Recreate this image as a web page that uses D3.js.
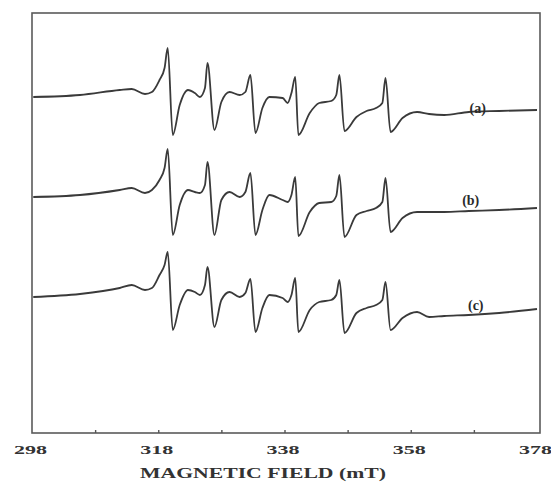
<!DOCTYPE html>
<html>
<head>
<meta charset="utf-8">
<script src="https://cdn.jsdelivr.net/npm/d3@7"></script>
<style>
  html, body { margin: 0; padding: 0; background: #ffffff; }
  svg { display: block; }
</style>
</head>
<body>
<svg id="chart" width="551" height="484"></svg>
<script>
// Magnetic field positions (mT) shared by the three EPR spectra
const field = [298.2, 305.6, 311.9, 313.8, 315.9, 317.0, 318.2, 319.0, 319.5, 320.3,
  321.4, 322.7, 323.8, 324.6, 325.4, 325.8, 326.9, 328.0, 329.3, 330.9,
  331.8, 332.6, 333.4, 334.5, 335.6, 337.7, 338.5, 339.1, 339.7, 340.2,
  342.0, 343.5, 345.4, 346.2, 346.7, 347.5, 349.4, 351.0, 352.5, 353.5,
  354.0, 354.8, 356.7, 359.0, 360.9, 363.3, 367.2, 372.0, 378.0];

// First-derivative signal (arbitrary units) for each sample
const signalA = [3, 5, 10, 11, 6, 8, 20, 32, 52, -35,
  -5, 10, 7, 3, 12, 37, -30, -2, 8, 5,
  8, 25, -33, -8, 3, 2, -3, 7, 23, -35,
  -13, -3, -1, 5, 25, -31, -17, -11, -8, -3,
  22, -32, -18, -12, -14, -15, -12, -11, -10];

const signalB = [3, 5, 10, 12, 7, 10, 20, 32, 51, -35,
  -5, 10, 8, 7, 15, 38, -35, 0, 8, 3,
  8, 27, -35, -10, 5, 0, -2, 5, 23, -36,
  -12, -3, -2, 4, 25, -37, -15, -11, -8, -2,
  22, -32, -18, -12, -12, -12, -11, -10, -8];

const signalC = [3, 6, 12, 15, 10, 12, 25, 35, 48, -30,
  -5, 10, 8, 5, 15, 33, -27, 0, 8, 3,
  7, 21, -32, -8, 5, 2, -2, 5, 22, -32,
  -10, -2, 0, 5, 20, -33, -13, -8, -5, 0,
  18, -30, -18, -12, -17, -16, -15, -13, -9];

const seriesLabels = ["(a)", "(b)", "(c)"];
const tickLabels = [298, 318, 338, 358, 378];
const minorTicks = [308, 318, 328, 338, 348, 358, 368];
const axisTitle = "MAGNETIC FIELD (mT)";

const svg = d3.select("#chart");
const frame = { left: 32, right: 540, top: 13, bottom: 433 };

const x = d3.scaleLinear().domain([298, 378]).range([frame.left, frame.right - 3]);
const y = d3.scaleLinear().domain([0, 420]).range([frame.bottom, frame.top]);

// vertical stacking of the three spectra
const spectra = [
  { values: signalA, offset: 333, label: seriesLabels[0], labelField: 368.6, labelShift: 8 },
  { values: signalB, offset: 233, label: seriesLabels[1], labelField: 367.5, labelShift: 0 },
  { values: signalC, offset: 133, label: seriesLabels[2], labelField: 368.3, labelShift: 5 }
];

const ink = "#3a3a3a";
const serif = "'Liberation Serif', 'DejaVu Serif', 'Times New Roman', serif";

// plot frame
svg.append("rect")
  .attr("x", frame.left).attr("y", frame.top)
  .attr("width", frame.right - frame.left).attr("height", frame.bottom - frame.top)
  .attr("fill", "none").attr("stroke", "#5a5a5a").attr("stroke-width", 1.6);

// bottom axis with small inward ticks
const axis = d3.axisBottom(x).tickValues(minorTicks).tickSize(-3).tickFormat("");
const gAxis = svg.append("g").attr("transform", `translate(0,${frame.bottom})`).call(axis);
gAxis.select(".domain").remove();
gAxis.selectAll(".tick line").attr("stroke", "#555").attr("stroke-width", 1.4);

// tick labels
svg.append("g").selectAll("text").data(tickLabels).join("text")
  .attr("x", d => x(d) - 18)
  .attr("y", 454)
  .attr("textLength", 33)
  .attr("lengthAdjust", "spacingAndGlyphs")
  .attr("font-family", serif).attr("font-weight", "bold").attr("font-size", 13)
  .attr("fill", "#333")
  .text(d => d);

// axis title
svg.append("text")
  .attr("x", 140).attr("y", 478)
  .attr("textLength", 246)
  .attr("lengthAdjust", "spacingAndGlyphs")
  .attr("font-family", serif).attr("font-weight", "bold").attr("font-size", 15)
  .attr("fill", "#333")
  .text(axisTitle);

// spectra
const line = d3.line()
  .x(d => x(d[0]))
  .y(d => d[1])
  .curve(d3.curveMonotoneX);

spectra.forEach(s => {
  const pts = field.map((f, i) => [f, y(s.values[i] + s.offset)]);
  svg.append("path")
    .attr("d", line(pts))
    .attr("fill", "none")
    .attr("stroke", ink)
    .attr("stroke-width", 1.8)
    .attr("stroke-linejoin", "round");

  svg.append("text")
    .attr("x", x(s.labelField))
    .attr("y", y(s.offset - s.labelShift) + 5)
    .attr("text-anchor", "middle")
    .attr("font-family", serif).attr("font-weight", "bold").attr("font-size", 14)
    .attr("fill", "#2a2a2a")
    .text(s.label);
});
</script>
</body>
</html>
